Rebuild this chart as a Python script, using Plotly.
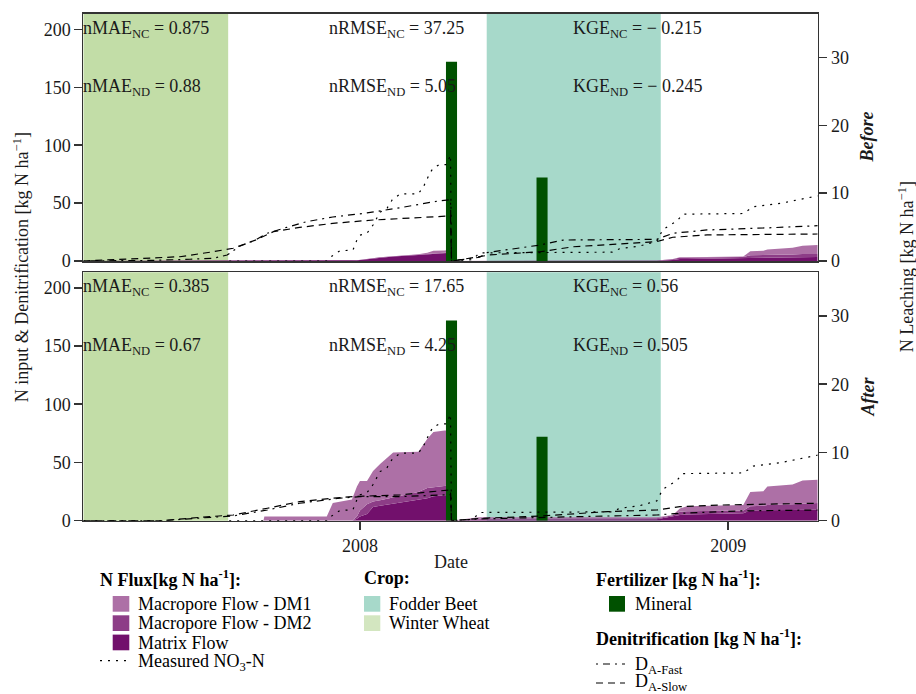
import plotly.graph_objects as go

# ------------------------------------------------------------------ data
X_RANGE = ["2007-04-01", "2009-03-31"]
LEFT_MAX = 213.3          # N input & denitrification axis [kg N/ha]
RIGHT_MAX = 36.4          # N leaching axis [kg N/ha]
LEFT_TICKS = [0, 50, 100, 150, 200]
RIGHT_TICKS = [0, 10, 20, 30]
X_TICKVALS = ["2008-01-01", "2009-01-01"]
X_TICKTEXT = ["2008", "2009"]

CROP_NAMES = ["Winter Wheat", "Fodder Beet"]
CROP_START = ["2007-04-01", "2008-05-06"]
CROP_END = ["2007-08-23", "2008-10-26"]

FERT_DATES = ["2008-04-01", "2008-06-30"]
FERT_VALUES = [172, 72]
FERT_WIDTH_DAYS = 11

FLUX_DATES = ["2007-04-01", "2007-09-27", "2007-09-28", "2007-11-29", "2007-12-02",
              "2007-12-05", "2007-12-24", "2007-12-29", "2008-01-01", "2008-01-08",
              "2008-01-14", "2008-01-21", "2008-02-03", "2008-02-28", "2008-03-08",
              "2008-03-14", "2008-03-25", "2008-03-31", "2008-04-01", "2008-04-28",
              "2008-10-22", "2008-11-07", "2008-11-14", "2008-11-21", "2009-01-16",
              "2009-01-23", "2009-02-05", "2009-02-09", "2009-03-06", "2009-03-16",
              "2009-03-31"]

BEFORE_MATRIX = [0, 0, 0, 0, 0, 0, 0, 0.1, 0.15, 0.25, 0.4, 0.5, 0.65, 0.9, 1.0, 1.1,
                 1.15, 1.2, 0, 0, 0.05, 0.15, 0.3, 0.3, 0.4, 0.5, 0.5, 0.5, 0.55, 0.6, 0.6]
BEFORE_DM2 = [0, 0, 0, 0, 0, 0, 0, 0.02, 0.03, 0.05, 0.05, 0.05, 0.05, 0.08, 0.1, 0.1,
              0.1, 0.1, 0, 0, 0.02, 0.1, 0.2, 0.2, 0.2, 0.35, 0.35, 0.4, 0.4, 0.45, 0.45]
BEFORE_DM1 = [0, 0, 0, 0, 0, 0, 0, 0, 0, 0, 0, 0, 0, 0, 0.1, 0.3,
              0.3, 0.35, 0, 0, 0, 0.03, 0.05, 0.05, 0.05, 0.6, 0.65, 0.8, 1.0, 1.2, 1.3]

AFTER_MATRIX = [0, 0, 0, 0, 0, 0, 0, 0.3, 0.6, 1.0, 2.0, 2.2, 2.5, 3.0, 3.3, 3.6,
                3.7, 3.8, 0, 0.15, 0.2, 0.6, 0.85, 0.9, 1.1, 1.5, 1.5, 1.55, 1.55, 1.6, 1.6]
AFTER_DM2 = [0, 0, 0, 0, 0, 0, 0, 0.3, 0.9, 1.4, 0.8, 0.8, 0.9, 1.2, 1.5, 1.3,
             1.4, 1.4, 0, 0.15, 0.15, 0.2, 0.45, 0.5, 0.4, 0.6, 0.7, 0.75, 0.85, 0.9, 1.0]
AFTER_DM1 = [0, 0, 0.6, 0.6, 1.6, 2.6, 3.1, 4.4, 4.3, 3.4, 4.5, 5.3, 6.6, 5.9, 7.2, 8.1,
             8.1, 8.0, 0, 0.2, 0.15, 0.05, 0.5, 0.7, 0.8, 2.1, 2.1, 2.7, 2.9, 3.4, 3.4]

MEAS_DATES = ["2007-08-24", "2007-11-29", "2007-12-02", "2007-12-12", "2007-12-25",
              "2007-12-29", "2008-01-01", "2008-01-08", "2008-01-14", "2008-01-21",
              "2008-01-28", "2008-02-02", "2008-02-10", "2008-02-28", "2008-03-04",
              "2008-03-11", "2008-03-14", "2008-03-20", "2008-03-27", "2008-03-31",
              "2008-04-01", "2008-04-22", "2008-04-29", "2008-09-08", "2008-09-15",
              "2008-10-05", "2008-10-22", "2008-10-28", "2008-11-11", "2008-11-17",
              "2009-01-16", "2009-01-26", "2009-02-22", "2009-03-31"]
MEAS_NO3N = [0, 0, 0.5, 1.5, 1.6, 3.1, 3.8, 4.1, 5.3, 7.2,
             7.8, 9.0, 9.9, 9.9, 10.9, 13.1, 13.7, 14.2, 14.2, 15.6,
             0, 0.2, 1.2, 1.3, 1.8, 2.2, 2.9, 4.6, 5.9, 6.9,
             7.0, 8.0, 8.5, 9.6]

BEFORE_FAST_DATES = ["2007-04-01", "2007-06-07", "2007-07-16", "2007-08-08", "2007-08-22",
                     "2007-09-04", "2007-09-19", "2007-10-01", "2007-10-20", "2007-11-09",
                     "2007-12-05", "2008-01-08", "2008-02-10", "2008-03-20", "2008-03-31",
                     "2008-04-01", "2008-04-06", "2008-04-29", "2008-05-06", "2008-06-28",
                     "2008-07-21", "2008-10-22", "2008-11-07", "2008-12-11", "2009-02-15",
                     "2009-03-31"]
BEFORE_FAST = [0, 0.5, 1.5, 2.3, 5.2, 13, 18, 24, 29, 34, 38, 41.5, 46, 52, 53,
               0, 0.6, 3.2, 7.2, 13.8, 18.1, 18.7, 23.9, 26.8, 28.8, 30.5]

BEFORE_SLOW_DATES = ["2007-04-01", "2007-05-17", "2007-07-06", "2007-08-08", "2007-08-28",
                     "2007-09-19", "2007-10-07", "2007-11-02", "2007-12-05", "2008-01-14",
                     "2008-03-20", "2008-03-31", "2008-04-01", "2008-04-06", "2008-05-09",
                     "2008-06-28", "2008-07-31", "2008-10-05", "2008-10-22", "2008-11-07",
                     "2008-12-11", "2009-03-31"]
BEFORE_SLOW = [0, 1.5, 3.7, 8, 11, 18, 25.3, 29, 32.5, 35.4, 38.3, 38.9,
               0, 0.6, 5.2, 8, 12.3, 15.3, 16.7, 20.5, 22.5, 23.3]

AFTER_FAST_DATES = ["2007-04-01", "2007-06-19", "2007-07-26", "2007-08-28", "2007-10-01",
                    "2007-11-02", "2007-12-12", "2008-01-01", "2008-02-10", "2008-03-27",
                    "2008-03-31", "2008-04-01", "2008-04-29", "2008-07-31", "2008-10-22",
                    "2008-11-14", "2009-01-13", "2009-03-31"]
AFTER_FAST = [0, 0, 2.3, 4.1, 9.2, 15, 19.3, 20.7, 20.7, 22.2, 22.3,
              0, 1.5, 3.4, 4.9, 6.4, 8.4, 9.2]

AFTER_SLOW_DATES = ["2007-04-01", "2007-06-19", "2007-07-26", "2007-08-28", "2007-10-01",
                    "2007-11-02", "2007-12-05", "2007-12-25", "2008-02-10", "2008-03-24",
                    "2008-03-31", "2008-04-01", "2008-04-29", "2008-06-28", "2008-09-03",
                    "2008-10-22", "2008-11-14", "2008-12-27", "2009-03-31"]
AFTER_SLOW = [0, 0, 2.9, 4.9, 10.7, 16.4, 19.3, 20.7, 22.2, 25.9, 26.5,
              0, 2, 4, 7.8, 9.2, 12.1, 13.5, 15]

STAT_NAMES = ["nMAE", "nRMSE", "KGE"]
STAT_X = ["2007-04-01", "2007-12-01", "2008-07-31"]
STAT_ROW_Y = [200, 150]          # NC row, ND row (left-axis units)
BEFORE_NC = ["0.875", "37.25", "\u2212 0.215"]
BEFORE_ND = ["0.88", "5.05", "\u2212 0.245"]
AFTER_NC = ["0.385", "17.65", "0.56"]
AFTER_ND = ["0.67", "4.25", "0.505"]

# ------------------------------------------------------------------ style
W, H = 916, 694
FONT = "Liberation Serif, Times New Roman, serif"
TXT = "#1a1a1a"
AX = "#333333"
C_DM1 = "#AD70A6"
C_DM2 = "#8D3D87"
C_MAT = "#72106C"
C_FERT = "#005100"
CROP_FILL = {"Winter Wheat": "#C2DDA7", "Fodder Beet": "#A7D9CA"}
CROP_KEY = {"Winter Wheat": "#D3E6C0", "Fodder Beet": "#A7D9CA"}
DOT = "2px,6px"
DASH = "7px,5px"
DASHDOT = "2px,5px,7px,5px"
LW = 1.2


def px(x):
    return x / W


def py(y):
    return 1 - y / H


X_DOMAIN = [px(83.3), px(817.7)]
TOP_DOMAIN = [py(261), py(14)]
BOT_DOMAIN = [py(520.7), py(272.3)]

fig = go.Figure()

panels = [
    dict(label="Before", x="x2", yR="y", yL="y2", yM="y3", yD="y4",
         mat=BEFORE_MATRIX, dm2=BEFORE_DM2, dm1=BEFORE_DM1,
         fd=BEFORE_FAST_DATES, fv=BEFORE_FAST, sd=BEFORE_SLOW_DATES, sv=BEFORE_SLOW,
         nc=BEFORE_NC, nd=BEFORE_ND, mid=(14 + 261) / 2),
    dict(label="After", x="x", yR="y5", yL="y6", yM="y7", yD="y8",
         mat=AFTER_MATRIX, dm2=AFTER_DM2, dm1=AFTER_DM1,
         fd=AFTER_FAST_DATES, fv=AFTER_FAST, sd=AFTER_SLOW_DATES, sv=AFTER_SLOW,
         nc=AFTER_NC, nd=AFTER_ND, mid=(272.3 + 520.7) / 2),
]

annotations = []
shapes = []

for p in panels:
    # stacked leaching fluxes (right axis units)
    for name, vals, col in [("Matrix Flow", p["mat"], C_MAT),
                            ("Macropore Flow - DM2", p["dm2"], C_DM2),
                            ("Macropore Flow - DM1", p["dm1"], C_DM1)]:
        fig.add_trace(go.Scatter(x=FLUX_DATES, y=vals, xaxis=p["x"], yaxis=p["yR"],
                                 mode="lines", line=dict(width=0, color=col),
                                 fillcolor=col, stackgroup="flux" + p["label"],
                                 name=name, showlegend=False, hoverinfo="skip"))
    # fertilizer bars (left axis units)
    fig.add_trace(go.Bar(x=FERT_DATES, y=FERT_VALUES, xaxis=p["x"], yaxis=p["yL"],
                         width=[FERT_WIDTH_DAYS * 86400000] * len(FERT_DATES),
                         marker=dict(color=C_FERT, line=dict(width=0)),
                         name="Mineral", showlegend=False))
    # measured NO3-N (right axis units)
    fig.add_trace(go.Scatter(x=MEAS_DATES, y=MEAS_NO3N, xaxis=p["x"], yaxis=p["yM"],
                             mode="lines", line=dict(color="black", width=LW, dash=DOT),
                             name="Measured NO3-N", showlegend=False))
    # denitrification (left axis units)
    fig.add_trace(go.Scatter(x=p["fd"], y=p["fv"], xaxis=p["x"], yaxis=p["yD"],
                             mode="lines", line=dict(color="black", width=LW, dash=DASHDOT),
                             name="D_A-Fast", showlegend=False))
    fig.add_trace(go.Scatter(x=p["sd"], y=p["sv"], xaxis=p["x"], yaxis=p["yD"],
                             mode="lines", line=dict(color="black", width=LW, dash=DASH),
                             name="D_A-Slow", showlegend=False))
    # crop bands
    for cname, c0, c1 in zip(CROP_NAMES, CROP_START, CROP_END):
        shapes.append(dict(type="rect", xref=p["x"], yref=p["yR"] + " domain",
                           x0=c0, x1=c1, y0=0, y1=1, layer="below",
                           fillcolor=CROP_FILL[cname], line=dict(width=0)))
    # statistics
    for sname, sx, vnc, vnd in zip(STAT_NAMES, STAT_X, p["nc"], p["nd"]):
        for sub, val, yy in [("NC", vnc, STAT_ROW_Y[0]), ("ND", vnd, STAT_ROW_Y[1])]:
            annotations.append(dict(x=sx, y=yy, xref=p["x"], yref=p["yL"],
                                    text=f"{sname}<sub>{sub}</sub> = {val}",
                                    showarrow=False, xanchor="left", yanchor="middle",
                                    xshift=-2, font=dict(size=18, color=TXT, family=FONT)))
    # strip label
    annotations.append(dict(x=px(867), y=py(p["mid"]), xref="paper", yref="paper",
                            text=f"<b><i>{p['label']}</i></b>", textangle=-90,
                            showarrow=False, xanchor="center", yanchor="middle",
                            font=dict(size=18, color=TXT, family=FONT)))

# axis titles
annotations += [
    dict(x=px(21), y=py((14 + 520.7) / 2), xref="paper", yref="paper",
         text="N input &amp; Denitrification [kg N ha<sup>\u22121</sup>]", textangle=-90,
         showarrow=False, xanchor="center", yanchor="middle",
         font=dict(size=18, color=TXT, family=FONT)),
    dict(x=px(906), y=py((14 + 520.7) / 2), xref="paper", yref="paper",
         text="N Leaching [kg N ha<sup>\u22121</sup>]", textangle=-90,
         showarrow=False, xanchor="center", yanchor="middle",
         font=dict(size=18, color=TXT, family=FONT)),
    dict(x=px(450.5), y=py(562), xref="paper", yref="paper", text="Date",
         showarrow=False, xanchor="center", yanchor="middle",
         font=dict(size=18, color=TXT, family=FONT)),
]


# ------------------------------------------------------------------ legend (manual)
def leg_text(x, y, text, bold=False, size=18):
    annotations.append(dict(x=px(x), y=py(y), xref="paper", yref="paper",
                            text=f"<b>{text}</b>" if bold else text,
                            showarrow=False, xanchor="left", yanchor="middle",
                            font=dict(size=size, color="black", family=FONT)))


def leg_rect(x0, y0, x1, y1, col):
    shapes.append(dict(type="rect", xref="paper", yref="paper", x0=px(x0), x1=px(x1),
                       y0=py(y1), y1=py(y0), fillcolor=col, line=dict(width=0)))


def leg_line(x0, x1, y, dash):
    shapes.append(dict(type="line", xref="paper", yref="paper", x0=px(x0), x1=px(x1),
                       y0=py(y), y1=py(y), line=dict(color="black", width=LW, dash=dash)))


leg_text(98, 578, "N Flux[kg N ha<sup>-1</sup>]:", bold=True)
for i, (lab, col) in enumerate([("Macropore Flow - DM1", C_DM1),
                                ("Macropore Flow - DM2", C_DM2),
                                ("Matrix Flow", C_MAT)]):
    y0 = 596 + i * 19.3
    leg_rect(112.7, y0, 129.3, y0 + 15.7, col)
    leg_text(136, y0 + 8, lab)
leg_line(100, 129, 660.7, DOT)
leg_text(136, 662, "Measured NO<sub>3</sub>-N")

leg_text(362, 578, "Crop:", bold=True)
for i, cname in enumerate(["Fodder Beet", "Winter Wheat"]):
    y0 = 596 + i * 19.3
    leg_rect(364, y0, 380.3, y0 + 15.7, CROP_KEY[cname])
    leg_text(387, y0 + 8, cname)

leg_text(594, 578, "Fertilizer [kg N ha<sup>-1</sup>]:", bold=True)
leg_rect(609, 596, 625, 611.7, C_FERT)
leg_text(633, 604, "Mineral")
leg_text(594, 637, "Denitrification [kg N ha<sup>-1</sup>]:", bold=True)
leg_line(596, 625, 664, DASHDOT)
leg_text(633, 665, "D<sub>A-Fast</sub>")
leg_line(596, 625, 683, DASH)
leg_text(633, 682.5, "D<sub>A-Slow</sub>")

# ------------------------------------------------------------------ axes
tickfont = dict(size=18, color=TXT, family=FONT)
common_line = dict(showline=True, linecolor=AX, linewidth=1.6, showgrid=False,
                   zeroline=False, automargin=False)

layout_axes = dict(
    xaxis=dict(domain=X_DOMAIN, anchor="y5", type="date", range=X_RANGE,
               tickvals=X_TICKVALS, ticktext=X_TICKTEXT, ticks="outside", ticklen=8,
               tickwidth=1.5, tickcolor=AX, tickfont=tickfont, mirror=True, **common_line),
    xaxis2=dict(domain=X_DOMAIN, anchor="y", type="date", matches="x", range=X_RANGE,
                showticklabels=False, ticks="", mirror=True, **common_line),
)
for main, left, meas, den, dom, xa in [("yaxis", "yaxis2", "yaxis3", "yaxis4", TOP_DOMAIN, "x2"),
                                        ("yaxis5", "yaxis6", "yaxis7", "yaxis8", BOT_DOMAIN, "x")]:
    main_id = "y" + main[5:]
    layout_axes[main] = dict(domain=dom, anchor=xa, side="right", range=[0, RIGHT_MAX],
                             tickvals=RIGHT_TICKS, ticks="outside", ticklen=8, tickwidth=1.5,
                             tickcolor=AX, tickfont=tickfont, mirror=True, **common_line)
    layout_axes[left] = dict(overlaying=main_id, anchor=xa, side="left", range=[0, LEFT_MAX],
                             tickvals=LEFT_TICKS, ticks="outside", ticklen=8, tickwidth=1.5,
                             tickcolor=AX, tickfont=tickfont, showline=False,
                             showgrid=False, zeroline=False, automargin=False)
    layout_axes[meas] = dict(overlaying=main_id, anchor=xa, range=[0, RIGHT_MAX], visible=False)
    layout_axes[den] = dict(overlaying=main_id, anchor=xa, range=[0, LEFT_MAX], visible=False)

fig.update_layout(
    template="none",
    width=W, height=H, margin=dict(l=0, r=0, t=0, b=0, pad=0, autoexpand=False),
    paper_bgcolor="white", plot_bgcolor="white",
    font=dict(family=FONT, size=18, color=TXT),
    showlegend=False, barmode="overlay", hovermode=False,
    annotations=annotations, shapes=shapes,
    **layout_axes,
)

fig.write_html("out.html", config={"displayModeBar": False, "staticPlot": True},
               post_script="document.body.style.margin='0px';")
